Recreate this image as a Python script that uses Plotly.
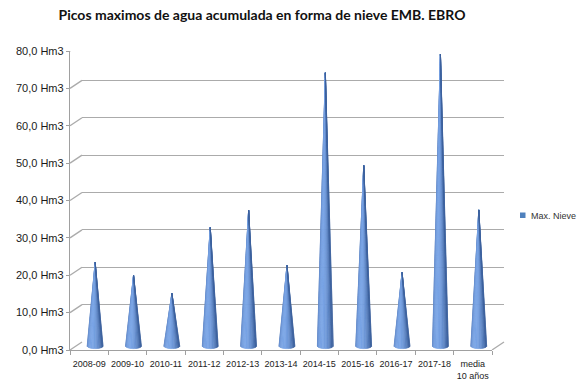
import numpy as np
import plotly.graph_objects as go

# ---- data ----
categories = ["2008-09", "2009-10", "2010-11", "2011-12", "2012-13", "2013-14",
              "2014-15", "2015-16", "2016-17", "2017-18", "media<br>10 años"]
max_nieve = [22.4, 18.9, 14.1, 31.7, 36.3, 21.6, 73.1, 48.3, 19.7, 78.1, 36.4]
y_ticks = [0, 10, 20, 30, 40, 50, 60, 70, 80]
y_tick_text = ["0,0 Hm3", "10,0 Hm3", "20,0 Hm3", "30,0 Hm3", "40,0 Hm3",
               "50,0 Hm3", "60,0 Hm3", "70,0 Hm3", "80,0 Hm3"]
series_name = "Max. Nieve"
series_color = "#4f81bd"
title = "Picos maximos de agua acumulada en forma de nieve EMB. EBRO"

# ---- layout geometry (pixels) ----
W, H = 577, 383
S = 299 / 80.0          # px per unit
PLOT_W = 422
FRONT_L = 70
DX, DY = 12, 8          # 3D depth offset (back wall)

def xdom(left):
    return [left / W, (left + PLOT_W) / W]

def ydom(base, lo, hi):
    return [(H - (base - lo * S)) / H, (H - (base - hi * S)) / H]

n = len(categories)
xr = [-0.5, n - 0.5]
grid_col = "#ababab"
axis_col = "#a0a0a0"

fig = go.Figure()

# ---- cones (mid depth axes x3/y3), shaded with angular bands ----
hw = 8.0 / (PLOT_W / n)      # half base width in category units
e = 2.6 / S                  # ellipse depth in data units
nb = 16
thetas = np.linspace(-np.pi / 2, np.pi / 2, nb + 1)
dark = np.array([34, 68, 126])
light = np.array([122, 165, 230])
phi = -0.45
for k in range(nb):
    ta, tb = thetas[k], thetas[k + 1]
    tm = 0.5 * (ta + tb)
    b = max(0.0, np.cos(tm - phi))
    b = 0.3 + 0.7 * b ** 1.1
    col = dark + (light - dark) * b
    color = "rgb(%d,%d,%d)" % tuple(col.astype(int))
    xs, ys = [], []
    for i, v in enumerate(max_nieve):
        ua, ub = np.sin(ta), np.sin(tb)
        xs += [i + ua * hw, i, i + ub * hw, i + ua * hw, None]
        ys += [-e * np.cos(ta), v, -e * np.cos(tb), -e * np.cos(ta), None]
    fig.add_trace(go.Scatter(x=xs, y=ys, mode="lines", fill="toself",
                             fillcolor=color, line=dict(color=color, width=0.6),
                             xaxis="x3", yaxis="y3", showlegend=False,
                             hoverinfo="skip"))

# ---- frame shapes: left diagonals at each tick, floor right diagonal ----
shapes = []
for v in y_ticks:
    shapes.append(dict(type="line", xref="paper", yref="y",
                       xsizemode="pixel", xanchor=FRONT_L / W, x0=0, x1=DX,
                       ysizemode="pixel", yanchor=v, y0=0, y1=DY,
                       line=dict(color=grid_col, width=1.3)))
shapes.append(dict(type="line", xref="paper", yref="y",
                   xsizemode="pixel", xanchor=(FRONT_L + PLOT_W) / W, x0=0, x1=DX,
                   ysizemode="pixel", yanchor=0, y0=0, y1=DY,
                   line=dict(color=grid_col, width=1.3)))
# legend key (square) + label
shapes.append(dict(type="rect", xref="paper", yref="paper",
                   x0=520 / W, x1=525.5 / W,
                   y0=(H - 218) / H, y1=(H - 212.5) / H,
                   fillcolor=series_color, line=dict(width=0)))
annotations = [dict(text=series_name, xref="paper", yref="paper",
                    x=528.5 / W, y=(H - 215.5) / H, xanchor="left",
                    yanchor="middle", showarrow=False,
                    font=dict(family="Liberation Sans", size=9, color="#333333"))]

fig.update_layout(
    width=W, height=H,
    margin=dict(l=0, r=0, t=0, b=0),
    paper_bgcolor="white", plot_bgcolor="rgba(0,0,0,0)",
    shapes=shapes, annotations=annotations,
    title=dict(text="<b>" + title + "</b>", x=262 / W, xanchor="center",
               y=1 - 15 / H, yanchor="middle",
               font=dict(family="Lato", size=14, color="#111111")),
    showlegend=False,
    # front axes (labels)
    xaxis=dict(domain=xdom(FRONT_L), range=xr, anchor="y", automargin=False,
               tickvals=list(range(n)), ticktext=categories,
               ticks="", showgrid=False, zeroline=False,
               showline=True, linecolor=axis_col, linewidth=1.3,
               ticklabelstandoff=5,
               tickfont=dict(family="Liberation Sans", size=9, color="#222222"),
               minor=dict(tickvals=[i - 0.5 for i in range(n + 1)],
                          ticks="outside", ticklen=4, tickcolor=axis_col,
                          showgrid=False)),
    yaxis=dict(domain=ydom(350, 0, 80), range=[0, 80], anchor="x",
               automargin=False,
               tickvals=y_ticks, ticktext=y_tick_text,
               ticks="outside", ticklen=3, tickcolor=axis_col,
               showgrid=False, zeroline=False,
               showline=True, linecolor=axis_col, linewidth=1.3,
               tickfont=dict(family="Liberation Sans", size=11, color="#1a1a1a")),
    # back wall (gridlines)
    xaxis2=dict(domain=xdom(FRONT_L + DX), range=xr, anchor="y2", visible=False,
                automargin=False),
    yaxis2=dict(domain=ydom(350 - DY, 0, 80), range=[0, 80], anchor="x2",
                automargin=False,
                tickvals=y_ticks, showticklabels=False, ticks="",
                showgrid=True, gridcolor=grid_col, gridwidth=1.3,
                zeroline=False, showline=False),
    # mid depth (cones)
    xaxis3=dict(domain=xdom(FRONT_L + DX / 2), range=xr, anchor="y3",
                visible=False, automargin=False),
    yaxis3=dict(domain=ydom(350 - DY / 2, -2, 80), range=[-2, 80], anchor="x3",
                visible=False, automargin=False),
)
# invisible traces so the front and back-wall axes render
fig.add_trace(go.Scatter(x=[None], y=[None], xaxis="x2", yaxis="y2",
                         showlegend=False, hoverinfo="skip"))
fig.add_trace(go.Scatter(x=[None], y=[None], xaxis="x", yaxis="y",
                         showlegend=False, hoverinfo="skip"))

fig.write_html("out.html", config={"displayModeBar": False},
               post_script="document.body.style.margin='0px';"
                           "document.body.style.overflow='hidden';")
